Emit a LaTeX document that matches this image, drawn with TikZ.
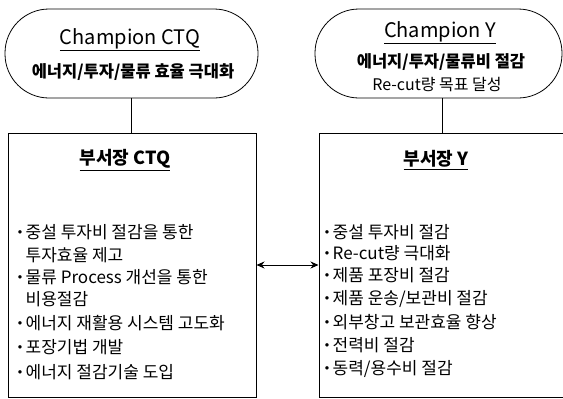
\documentclass[tikz,border=0pt]{standalone}
\usepackage{fontspec}
\setmainfont{Noto Sans CJK KR}
\newfontfamily\dvsans{DejaVu Sans}
\usetikzlibrary{arrows.meta}
\tikzset{
  pill/.style={draw, line width=0.8pt, rounded corners=44pt, inner sep=0pt},
  box/.style={draw, line width=1pt, inner sep=0pt},
  conn/.style={line width=0.8pt},
  item/.style={anchor=base west, inner sep=0pt, font=\fontsize{17}{20}\selectfont},
  title/.style={inner sep=0pt, font=\fontsize{20}{24}\selectfont},
  sub/.style={inner sep=0pt, font=\fontsize{16.5}{20}\selectfont\bfseries},
  head/.style={inner sep=0pt, font=\fontsize{18}{20}\selectfont\bfseries},
}
\newcommand{\bul}{\makebox[7.5pt][l]{\raisebox{4.5pt}{\dvsans\fontsize{4.5}{5}\selectfont ●}}}
\newcommand{\ind}{\hspace*{7.5pt}}
\begin{document}
\begin{tikzpicture}[x=1pt,y=-1pt]
\useasboundingbox (0,0) rectangle (563,399);
% pills
\node[pill, minimum width=253pt, minimum height=89pt] (cl) at (131.5,53.5) {};
\node[pill, minimum width=247pt, minimum height=89pt] (cr) at (438.5,53.5) {};
% boxes
\node[box, minimum width=248pt, minimum height=264pt] (bl) at (132,265) {};
\node[box, minimum width=251pt, minimum height=264pt] (br) at (444.5,265) {};
% connectors
\draw[conn] (cl.south) -- (cl.south |- bl.north);
\draw[conn] (cr.south -| 442,0) -- (442,133);
\draw[conn, {Stealth[length=8pt,width=7pt]}-{Stealth[length=8pt,width=7pt]}] (bl.east) -- (br.west);
% titles
\node[title] (tl) at (130,40) {\underline{Champion CTQ}};
\node[sub] (sl) at (133,72) {에너지/투자/물류 효율 극대화};
\node[title] (tr) at (440,33) {\underline{Champion Y}};
\node[sub] (sr1) at (441,62) {에너지/투자/물류비 절감};
\node[inner sep=0pt, font=\fontsize{16}{18}\selectfont] (sr2) at (437,85) {Re-cut량 목표 달성};
\node[head] (hl) at (125,160) {\underline{부서장 CTQ}};
\node[head] (hr) at (436,160) {\underline{부서장 Y}};
% left items
\node[item] (l1) at (18,238) {\bul 중설 투자비 절감을 통한};
\node[item] (l2) at (18,261) {\ind 투자효율 제고};
\node[item] (l3) at (18,283) {\bul 물류 Process 개선을 통한};
\node[item] (l4) at (18,305) {\ind 비용절감};
\node[item] (l5) at (18,329) {\bul 에너지 재활용 시스템 고도화};
\node[item] (l6) at (18,353) {\bul 포장기법 개발};
\node[item] (l7) at (18,378) {\bul 에너지 절감기술 도입};
% right items
\node[item] (r1) at (325,238) {\bul 중설 투자비 절감};
\node[item] (r2) at (325,259) {\bul Re-cut량 극대화};
\node[item] (r3) at (325,281) {\bul 제품 포장비 절감};
\node[item] (r4) at (325,304) {\bul 제품 운송/보관비 절감};
\node[item] (r5) at (325,328) {\bul 외부창고 보관효율 향상};
\node[item] (r6) at (325,351) {\bul 전력비 절감};
\node[item] (r7) at (325,374) {\bul 동력/용수비 절감};
\end{tikzpicture}
\end{document}
